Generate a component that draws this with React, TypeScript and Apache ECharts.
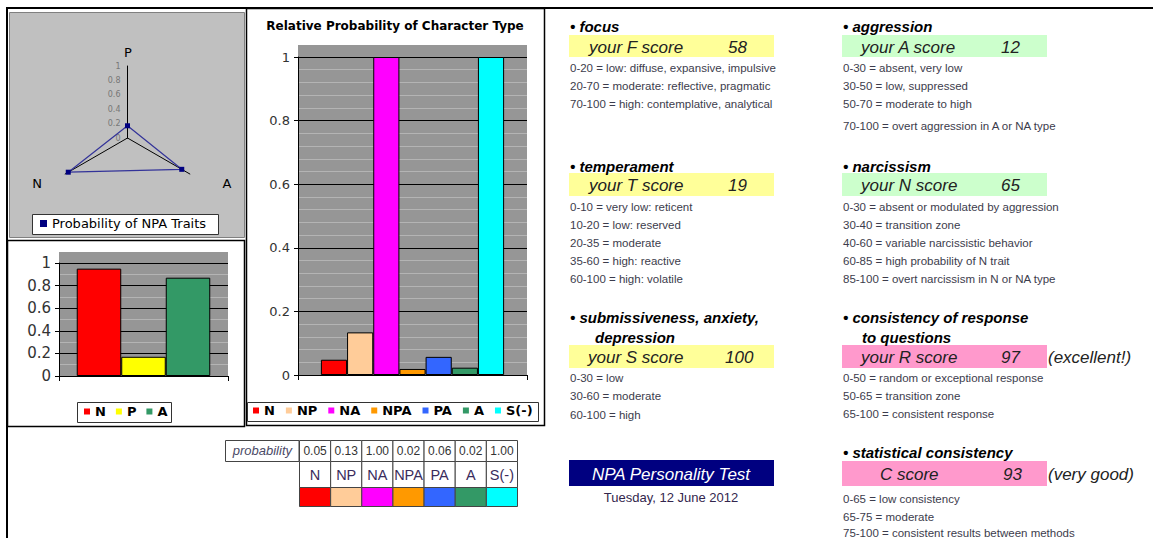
import React, { useEffect, useRef } from 'react';
import * as echarts from 'echarts';

// ---------- data ----------
const traitNames = ['N', 'P', 'A'];
const traitValues = [0.95, 0.17, 0.87];
const traitColors = ['#ff0000', '#ffff00', '#339966'];
const radarOrder = ['P', 'N', 'A'];
const radarSeriesName = 'Probability of NPA Traits';

const typeNames = ['N', 'NP', 'NA', 'NPA', 'PA', 'A', 'S(-)'];
const typeValues = [0.048, 0.134, 1.0, 0.019, 0.057, 0.023, 1.0];
const typeColors = ['#ff0000', '#ffcc99', '#ff00ff', '#ff9900', '#3366ff', '#339966', '#00ffff'];

const chartTitle = 'Relative Probability of Character Type';
const tableRowLabel = 'probability';

const focusLines = ['0-20 = low: diffuse, expansive, impulsive', '20-70 = moderate: reflective, pragmatic', '70-100 = high: contemplative, analytical'];
const temperamentLines = ['0-10 = very low: reticent', '10-20 = low: reserved', '20-35 = moderate', '35-60 = high: reactive', '60-100 = high: volatile'];
const submissiveLines = ['0-30 = low', '30-60 = moderate', '60-100 = high'];
const aggressionLines = ['0-30 = absent, very low', '30-50 = low, suppressed', '50-70 = moderate to high', '70-100 = overt aggression in A or NA type'];
const narcissismLines = ['0-30 = absent or modulated by aggression', '30-40 = transition zone', '40-60 = variable narcissistic behavior', '60-85 = high probability of N trait', '85-100 = overt narcissism in N or NA type'];
const responseLines = ['0-50 = random or exceptional response', '50-65 = transition zone', '65-100 = consistent response'];
const statLines = ['0-65 = low consistency', '65-75 = moderate', '75-100 = consistent results between methods'];

const sections = [
  { heading: ['• focus'], label: 'your F score', value: '58', note: '', lines: focusLines },
  { heading: ['• temperament'], label: 'your T score', value: '19', note: '', lines: temperamentLines },
  { heading: ['• submissiveness, anxiety,', 'depression'], label: 'your S score', value: '100', note: '', lines: submissiveLines },
  { heading: ['• aggression'], label: 'your A score', value: '12', note: '', lines: aggressionLines },
  { heading: ['• narcissism'], label: 'your N score', value: '65', note: '', lines: narcissismLines },
  { heading: ['• consistency of response', 'to questions'], label: 'your R score', value: '97', note: '(excellent!)', lines: responseLines },
  { heading: ['• statistical consistency'], label: 'C score', value: '93', note: '(very good)', lines: statLines },
];
const testTitle = 'NPA Personality Test';
const testDate = 'Tuesday, 12 June 2012';

// ---------- styles / layout ----------
const FONT_UI = '"Liberation Sans", Arial, sans-serif';
const FONT_CH = '"DejaVu Sans", Verdana, sans-serif';
const PLOT_GRAY = '#969696';
const MINOR = '#b4b4b4';
const DESC_COLOR = '#3c3c4c';

const layouts = [
  { x: 570, lx: 589, vx: 728, fill: '#ffff99', hy: 26, ry: 35, rh: 22, dy: [68, 86, 104] },
  { x: 570, lx: 589, vx: 728, fill: '#ffff99', hy: 166, ry: 173, rh: 23, dy: [207, 225, 243, 261, 279] },
  { x: 570, lx: 588, vx: 725, fill: '#ffff99', hy: 317, ry: 345, rh: 23, dy: [378, 396, 415], indent: 595 },
  { x: 843, lx: 861, vx: 1001, fill: '#ccffcc', hy: 26, ry: 35, rh: 22, dy: [68, 86, 104, 126] },
  { x: 843, lx: 861, vx: 1001, fill: '#ccffcc', hy: 166, ry: 173, rh: 23, dy: [207, 225, 243, 261, 279] },
  { x: 843, lx: 861, vx: 1001, fill: '#ff99cc', hy: 317, ry: 345, rh: 23, dy: [378, 396, 414], indent: 862 },
  { x: 843, lx: 880, vx: 1003, fill: '#ff99cc', hy: 452, ry: 461, rh: 25, dy: [499, 517, 533] },
];

function text(x: number, y: number, t: string, o: any = {}) {
  return {
    type: 'text',
    x,
    y,
    z: 20,
    silent: true,
    style: {
      text: t,
      fill: o.fill || '#000',
      fontFamily: o.fontFamily || FONT_UI,
      fontSize: o.fontSize || 12,
      fontWeight: o.fontWeight || 'normal',
      fontStyle: o.fontStyle || 'normal',
      textAlign: o.align || 'left',
      textVerticalAlign: 'middle',
      verticalAlign: 'middle',
    },
  };
}
function rect(x: number, y: number, w: number, h: number, fill: string, stroke?: string, lw = 1, z = -5) {
  return {
    type: 'rect',
    z,
    silent: true,
    shape: { x, y, width: w, height: h },
    style: { fill, stroke: stroke || null, lineWidth: stroke ? lw : 0 },
  };
}
function line(x1: number, y1: number, x2: number, y2: number, stroke = '#000', lw = 1, z = 15) {
  return { type: 'line', z, silent: true, shape: { x1, y1, x2, y2 }, style: { stroke, lineWidth: lw } };
}

function buildGraphics() {
  const g: any[] = [];
  // frame
  g.push(line(6, 8, 1153, 8, '#000', 2));
  g.push(line(7, 8, 7, 538, '#000', 2));
  // radar panel
  g.push(rect(9.5, 12.5, 235, 225, '#c0c0c0', '#808080', 1, -8));
  g.push(rect(32.5, 214.5, 186, 20, '#ffffff', '#333333', 1, -4));
  g.push(text(128, 52, 'P', { fontFamily: FONT_CH, fontSize: 13, align: 'center' }));
  g.push(text(37, 183, 'N', { fontFamily: FONT_CH, fontSize: 13, align: 'center' }));
  g.push(text(227, 183, 'A', { fontFamily: FONT_CH, fontSize: 13, align: 'center' }));
  // small bar chart panel
  g.push(rect(7.5, 240.5, 237, 186, '#ffffff', '#000000', 1.5, -9));
  g.push(rect(59, 252, 169, 124, PLOT_GRAY, null as any, 0, -6));
  g.push(rect(77.5, 402.5, 94, 20, '#ffffff', '#333333', 1, -4));
  // big bar chart panel
  g.push(rect(246.5, 8.5, 298, 417, '#ffffff', '#000000', 1.5, -9));
  g.push(rect(298, 45, 229, 330, PLOT_GRAY, null as any, 0, -6));
  g.push(rect(247.5, 402.5, 291, 19, '#ffffff', '#333333', 1, -4));
  g.push(text(395, 26, chartTitle, { fontFamily: FONT_CH, fontSize: 12, fontWeight: 'bold', align: 'center' }));

  // probability table
  const x0 = 299, cw = 218 / typeNames.length;
  const r1 = 440, r2 = 461, r3 = 487, r4 = 506;
  g.push(rect(225.5, r1 + 0.5, 73.5, r2 - r1, '#ffffff', '#444', 1, -4));
  g.push(text(292, (r1 + r2) / 2, tableRowLabel, { fontSize: 13, fontStyle: 'italic', fill: '#4a4a66', align: 'right' }));
  typeNames.forEach((n, i) => {
    const cx = x0 + i * cw;
    g.push(rect(cx + 0.5, r1 + 0.5, cw, r2 - r1, '#ffffff', '#444', 1, -4));
    g.push(rect(cx + 0.5, r2 + 0.5, cw, r3 - r2, '#ffffff', '#444', 1, -4));
    g.push(rect(cx + 0.5, r3 + 0.5, cw, r4 - r3, typeColors[i], '#444', 1, -4));
    g.push(text(cx + cw / 2 + 0.5, (r1 + r2) / 2 + 0.5, typeValues[i].toFixed(2), { fontSize: 12, fill: '#333', align: 'center' }));
    g.push(text(cx + cw / 2 + 0.5, (r2 + r3) / 2 + 1, n, { fontSize: 14.5, fill: '#3a2c5c', align: 'center' }));
  });

  // text sections
  sections.forEach((s, i) => {
    const L: any = layouts[i];
    g.push(text(L.x, L.hy, s.heading[0], { fontSize: 15, fontWeight: 'bold', fontStyle: 'italic' }));
    if (s.heading[1]) g.push(text(L.indent, L.hy + 20, s.heading[1], { fontSize: 15, fontWeight: 'bold', fontStyle: 'italic' }));
    g.push(rect(L.x - 1, L.ry, 205, L.rh, L.fill, null as any, 0, -4));
    const cy = L.ry + L.rh / 2 + 1;
    g.push(text(L.lx, cy, s.label, { fontSize: 17, fontStyle: 'italic', fill: '#222' }));
    g.push(text(L.vx, cy, s.value, { fontSize: 17, fontStyle: 'italic', fill: '#222' }));
    if (s.note) g.push(text(1048, cy, s.note, { fontSize: 17, fontStyle: 'italic', fill: '#222' }));
    s.lines.forEach((t, j) => {
      g.push(text(L.x, L.dy[j], t, { fontSize: 11.5, fill: DESC_COLOR }));
    });
  });

  // test title block
  g.push(rect(569, 460, 205, 26, '#000080', null as any, 0, -4));
  g.push(text(671, 474, testTitle, { fontSize: 17, fontStyle: 'italic', fill: '#ffffff', align: 'center' }));
  g.push(text(671, 497, testDate, { fontSize: 13, fill: '#33264d', align: 'center' }));
  return g;
}

function valueY(gridIndex: number, minorSplit: number, labelSize: number) {
  return {
    type: 'value',
    gridIndex,
    min: 0,
    max: 1,
    interval: 0.2,
    axisLine: { show: true, lineStyle: { color: '#000', width: 1 } },
    axisTick: { show: true, length: 4, lineStyle: { color: '#000' } },
    axisLabel: { fontFamily: FONT_CH, fontSize: labelSize, color: '#333', margin: 8 },
    splitLine: { show: true, lineStyle: { color: '#000', width: 1 } },
    minorTick: { show: false, splitNumber: minorSplit },
    minorSplitLine: { show: true, lineStyle: { color: MINOR, width: 1 } },
  };
}
function catX(gridIndex: number) {
  return {
    type: 'category',
    gridIndex,
    data: [''],
    axisLine: { show: true, lineStyle: { color: '#000', width: 1 } },
    axisTick: { show: true, length: 5, lineStyle: { color: '#000' } },
    axisLabel: { show: false },
  };
}

export default function App() {
  const ref = useRef<HTMLDivElement>(null);
  useEffect(() => {
    if (!ref.current) return;
    const chart = echarts.init(ref.current, null, { renderer: 'svg' });

    const smallSeries = traitNames.map((n, i) => ({
      type: 'bar',
      name: n,
      xAxisIndex: 0,
      yAxisIndex: 0,
      data: [traitValues[i]],
      barGap: '0%',
      barCategoryGap: '21%',
      itemStyle: { color: traitColors[i], borderColor: '#000', borderWidth: 1 },
      z: 5,
    }));
    const bigSeries = typeNames.map((n, i) => ({
      type: 'bar',
      name: n,
      xAxisIndex: 1,
      yAxisIndex: 1,
      data: [typeValues[i]],
      barGap: '0%',
      barCategoryGap: '20%',
      itemStyle: { color: typeColors[i], borderColor: '#000', borderWidth: 1 },
      z: 5,
    }));

    const legendText = { fontFamily: FONT_CH, fontSize: 13, fontWeight: 'bold', color: '#000' };

    chart.setOption({
      animation: false,
      backgroundColor: '#ffffff',
      grid: [
        { left: 59, top: 263, width: 169, height: 113, containLabel: false },
        { left: 298, top: 57, width: 229, height: 318, containLabel: false },
        { left: 127.5, top: 66, width: 1, height: 72, containLabel: false },
      ],
      xAxis: [catX(0), catX(1), { type: 'value', gridIndex: 2, show: false }],
      yAxis: [
        valueY(0, 2, 15),
        valueY(1, 5, 13),
        {
          type: 'value',
          gridIndex: 2,
          min: 0,
          max: 1,
          interval: 0.2,
          axisLine: { show: false },
          axisTick: { show: false },
          splitLine: { show: false },
          axisLabel: { fontFamily: FONT_CH, fontSize: 8, color: '#777', margin: 7 },
        },
      ],
      radar: {
        center: [127.5, 138],
        radius: 72,
        startAngle: 90,
        splitNumber: 5,
        indicator: radarOrder.map((n) => ({ name: n, min: 0, max: 1 })),
        axisName: { show: false },
        splitLine: { show: false },
        splitArea: { show: false },
        axisTick: { show: false },
        axisLabel: { show: false },
        axisLine: { show: true, lineStyle: { color: '#000', width: 1 } },
      },
      legend: [
        {
          data: [radarSeriesName],
          left: 40,
          top: 217,
          padding: 0,
          icon: 'rect',
          itemWidth: 7,
          itemHeight: 7,
          itemStyle: { borderWidth: 0 },
          textStyle: { fontFamily: FONT_CH, fontSize: 13, color: '#000' },
          selectedMode: false,
        },
        {
          data: traitNames,
          left: 84,
          top: 405,
          padding: 0,
          icon: 'rect',
          itemWidth: 6,
          itemHeight: 6,
          itemGap: 10,
          itemStyle: { borderWidth: 0 },
          textStyle: legendText,
          selectedMode: false,
        },
        {
          data: typeNames,
          left: 253,
          top: 404,
          padding: 0,
          icon: 'rect',
          itemWidth: 6,
          itemHeight: 6,
          itemGap: 11,
          itemStyle: { borderWidth: 0 },
          textStyle: legendText,
          selectedMode: false,
        },
      ],
      series: [
        ...smallSeries,
        ...bigSeries,
        {
          type: 'radar',
          name: radarSeriesName,
          symbol: 'rect',
          symbolSize: 5,
          lineStyle: { color: '#333399', width: 1.2 },
          itemStyle: { color: '#000080' },
          z: 5,
          data: [
            {
              name: radarSeriesName,
              value: radarOrder.map((n) => traitValues[traitNames.indexOf(n)]),
            },
          ],
        },
      ],
      graphic: { elements: buildGraphics() },
    });
    return () => chart.dispose();
  }, []);
  return (
    <div
      ref={ref}
      style={{ position: 'fixed', left: 0, top: 0, width: 1153, height: 538, background: '#fff' }}
    />
  );
}
